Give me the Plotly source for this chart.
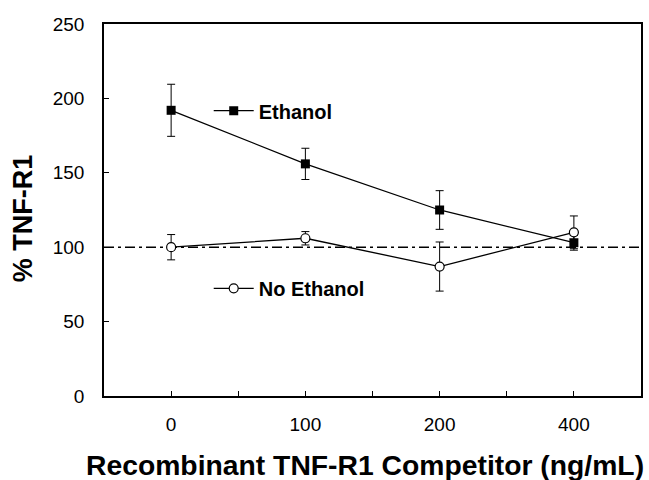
import plotly.graph_objects as go

categories = ["0", "100", "200", "400"]
ethanol = [192, 156, 125, 103]
ethanol_err = [17.5, 10.5, 13, 5]
no_ethanol = [100, 106, 87, 110]
no_ethanol_err = [8.5, 4.5, 16.5, 11]
baseline = 100
y_ticks = [0, 50, 100, 150, 200, 250]

FONT = "Arial, Liberation Sans, sans-serif"
xpos = list(range(len(categories)))

fig = go.Figure()
fig.add_trace(go.Scatter(
    x=xpos, y=ethanol, name="Ethanol", mode="lines+markers",
    line=dict(color="black", width=1.3),
    marker=dict(symbol="square", size=9, color="black"),
    error_y=dict(type="data", array=ethanol_err, color="black", thickness=1, width=4),
    legend="legend",
))
fig.add_trace(go.Scatter(
    x=xpos, y=no_ethanol, name="No Ethanol", mode="lines+markers",
    line=dict(color="black", width=1.3),
    marker=dict(symbol="circle", size=9, color="white", line=dict(color="black", width=1.2)),
    error_y=dict(type="data", array=no_ethanol_err, color="black", thickness=1, width=4),
    legend="legend2",
))
fig.add_shape(type="line", xref="paper", x0=0, x1=1, yref="y", y0=baseline, y1=baseline,
              line=dict(color="black", width=1.5, dash="10px,4px,3px,4px"), layer="below")

tickvals = [i * 0.5 for i in range(0, 2 * len(categories) - 1)]
ticktext = [categories[int(v)] if v == int(v) else "" for v in tickvals]

fig.update_layout(
    width=649, height=480,
    margin=dict(l=104, r=6, t=24, b=84),
    paper_bgcolor="white", plot_bgcolor="white",
    font=dict(family=FONT, color="black", size=19),
    xaxis=dict(range=[-0.5, len(categories) - 0.5], tickvals=tickvals, ticktext=ticktext,
               ticks="inside", ticklen=5, tickcolor="black", showgrid=False, zeroline=False,
               showline=True, linecolor="black", linewidth=1.5, mirror=True,
               ticklabelstandoff=10),
    yaxis=dict(range=[0, 250], tickvals=y_ticks,
               ticks="inside", ticklen=5, tickcolor="black", showgrid=False, zeroline=False,
               showline=True, linecolor="black", linewidth=1.5, mirror=True,
               ticklabelstandoff=14),
    legend=dict(x=0.195, y=1 - (110.7 - 24) / 372, xanchor="left", yanchor="middle",
                bgcolor="rgba(0,0,0,0)", font=dict(size=20, family=FONT, weight="bold"),
                itemwidth=40),
    legend2=dict(x=0.195, y=1 - (288.3 - 24) / 372, xanchor="left", yanchor="middle",
                 bgcolor="rgba(0,0,0,0)", font=dict(size=20, family=FONT, weight="bold"),
                 itemwidth=40),
    showlegend=True,
    annotations=[
        dict(text="<b>Recombinant TNF-R1 Competitor (ng/mL)</b>", xref="paper", yref="paper",
             x=(365.5 - 104) / 539, y=-(465 - 396) / 372, xanchor="center", yanchor="middle",
             showarrow=False, font=dict(size=28.3, family=FONT)),
        dict(text="<b>% TNF-R1</b>", xref="paper", yref="paper",
             x=(23 - 104) / 539, y=(396 - 218) / 372, xanchor="center", yanchor="middle",
             textangle=-90, showarrow=False, font=dict(size=27, family=FONT)),
    ],
)

fig.write_html("out.html", config={"displayModeBar": False},
               post_script="document.body.style.margin='0';document.documentElement.style.overflow='hidden';")
